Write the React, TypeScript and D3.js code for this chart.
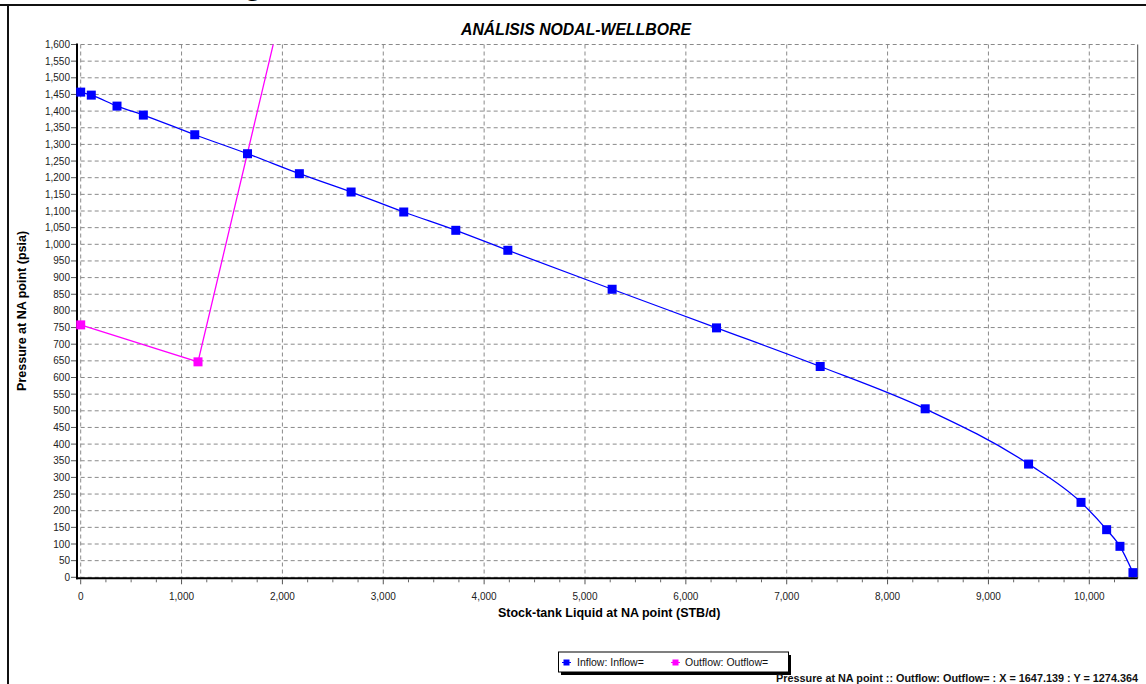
import React from "react";
import * as d3 from "d3";

const inflowX = [0, 105, 360, 621, 1131, 1654, 2168, 2681, 3203, 3719, 4235, 5269, 6304, 7332, 8373, 9398, 9918, 10172, 10304, 10433];
const inflowY = [1457, 1448, 1415, 1388, 1329, 1272, 1212, 1157, 1097, 1042, 982, 865, 749, 633, 506, 340, 225, 143, 93, 14];
const outflowX = [0, 1163, 2500];
const outflowY = [758, 647, 2356];

const xTicks = [0, 1000, 2000, 3000, 4000, 5000, 6000, 7000, 8000, 9000, 10000];
const yTicks = d3.range(0, 1601, 50);

const title = "ANÁLISIS NODAL-WELLBORE";
const xTitle = "Stock-tank Liquid at NA point (STB/d)";
const yTitle = "Pressure at NA point (psia)";
const legendLabels = ["Inflow: Inflow=", "Outflow: Outflow="];
const statusText = "Pressure at NA point :: Outflow: Outflow= : X = 1647.139 : Y = 1274.364";

const W = 1146;
const H = 684;
const left = 80.7;
const right = 1137.7;
const top = 44.5;
const bottom = 577.3;
const font = "'Liberation Sans', Arial, sans-serif";

export default function App() {
  const x = d3.scaleLinear().domain([0, 10480]).range([left, right]);
  const y = d3.scaleLinear().domain([0, 1600]).range([bottom, top]);
  const fmt = d3.format(",");

  const inflow = inflowX.map((v, i) => [v, inflowY[i]] as [number, number]);
  const outflow = outflowX.map((v, i) => [v, outflowY[i]] as [number, number]);

  const curveLine = d3
    .line<[number, number]>()
    .x((d) => x(d[0]))
    .y((d) => y(d[1]))
    .curve(d3.curveMonotoneX);
  const straightLine = d3
    .line<[number, number]>()
    .x((d) => x(d[0]))
    .y((d) => y(d[1]));

  const minorTicks = d3.range(0, 10480, 250).filter((v) => v % 1000 !== 0);
  const ms = 9;

  return (
    <svg
      width={W}
      height={H}
      style={{ position: "absolute", left: 0, top: 0, background: "#fff" }}
      fontFamily={font}
    >
      <defs>
        <clipPath id="plotClip">
          <rect x={left - 4} y={top} width={right - left + 4} height={bottom - top + 2} />
        </clipPath>
      </defs>
      <rect x={0} y={0} width={W} height={H} fill="#fff" />
      {/* outer frame fragments */}
      <text x={244} y={-5} fontSize={30} fontWeight="bold" fill="#000">g</text>
      <line x1={0} x2={W} y1={5} y2={5} stroke="#111" strokeWidth={2} />
      <line x1={8} x2={8} y1={5} y2={H} stroke="#111" strokeWidth={2} />

      {/* title */}
      <text
        x={576}
        y={35}
        textAnchor="middle"
        fontSize={15.8}
        fontWeight="bold"
        fontStyle="italic"
        fill="#000"
      >
        {title}
      </text>

      {/* grid */}
      {yTicks.map((t) => (
        <line
          key={"gy" + t}
          x1={left}
          x2={right}
          y1={y(t)}
          y2={y(t)}
          stroke="#8a8a8a"
          strokeWidth={1}
          strokeDasharray="4,3"
        />
      ))}
      {xTicks.map((t) => (
        <line
          key={"gx" + t}
          x1={x(t)}
          x2={x(t)}
          y1={top}
          y2={bottom}
          stroke="#8a8a8a"
          strokeWidth={1}
          strokeDasharray="4,3"
        />
      ))}
      <line x1={right} x2={right} y1={top} y2={bottom + 1} stroke="#444" strokeWidth={1} />

      {/* axes */}
      <line x1={77} x2={77} y1={top - 1} y2={bottom + 2} stroke="#000" strokeWidth={2} />
      <line x1={76} x2={right} y1={bottom + 1} y2={bottom + 1} stroke="#000" strokeWidth={2} />
      {yTicks.map((t) => (
        <g key={"yt" + t}>
          <line x1={71} x2={76} y1={y(t)} y2={y(t)} stroke="#555" strokeWidth={1} />
          <text x={70} y={y(t)} dy="0.35em" textAnchor="end" fontSize={10} fill="#222">
            {fmt(t)}
          </text>
        </g>
      ))}
      {xTicks.map((t) => (
        <g key={"xt" + t}>
          <line x1={x(t)} x2={x(t)} y1={bottom + 2} y2={bottom + 7} stroke="#555" strokeWidth={1} />
          <text x={x(t)} y={596} dy="0.35em" textAnchor="middle" fontSize={10} fill="#222">
            {fmt(t)}
          </text>
        </g>
      ))}
      {minorTicks.map((t) => (
        <line key={"mt" + t} x1={x(t)} x2={x(t)} y1={bottom + 2} y2={bottom + 5} stroke="#666" strokeWidth={1} />
      ))}

      {/* axis titles */}
      <text x={(left + right) / 2} y={613} dy="0.35em" textAnchor="middle" fontSize={12.5} fontWeight="bold" fill="#000">
        {xTitle}
      </text>
      <text
        transform={`translate(22,${(top + bottom) / 2}) rotate(-90)`}
        textAnchor="middle"
        dy="0.35em"
        fontSize={12.5}
        fontWeight="bold"
        fill="#000"
      >
        {yTitle}
      </text>

      {/* series */}
      <g clipPath="url(#plotClip)">
        <path d={curveLine(inflow) || ""} fill="none" stroke="#0000ff" strokeWidth={1.3} />
        <path d={straightLine(outflow) || ""} fill="none" stroke="#ff00ff" strokeWidth={1.3} />
      </g>
      {inflow.map((d, i) => (
        <rect key={"im" + i} x={x(d[0]) - ms / 2} y={y(d[1]) - ms / 2} width={ms} height={ms} fill="#0000ff" />
      ))}
      {outflow
        .filter((d) => d[1] <= 1600)
        .map((d, i) => (
          <rect key={"om" + i} x={x(d[0]) - ms / 2} y={y(d[1]) - ms / 2} width={ms} height={ms} fill="#ff00ff" />
        ))}

      {/* legend */}
      <rect x={561} y={655} width={230} height={20} fill="#000" />
      <rect x={558.5} y={652} width={230} height={20} fill="#fff" stroke="#000" strokeWidth={1} />
      <line x1={562} x2={571} y1={662.5} y2={662.5} stroke="#0000ff" strokeWidth={1} />
      <rect x={563.5} y={659.5} width={6} height={6} fill="#0000ff" />
      <text x={577} y={662.5} dy="0.35em" fontSize={10.5} fill="#111">{legendLabels[0]}</text>
      <line x1={671} x2={680} y1={662.5} y2={662.5} stroke="#ff00ff" strokeWidth={1} />
      <rect x={672.5} y={659.5} width={6} height={6} fill="#ff00ff" />
      <text x={685} y={662.5} dy="0.35em" fontSize={10.5} fill="#111">{legendLabels[1]}</text>

      {/* status text */}
      <text
        x={1138}
        y={678}
        dy="0.35em"
        textAnchor="end"
        fontSize={10.5}
        fontWeight="bold"
        fill="#111"
        textLength={362}
        lengthAdjust="spacingAndGlyphs"
      >
        {statusText}
      </text>
    </svg>
  );
}
